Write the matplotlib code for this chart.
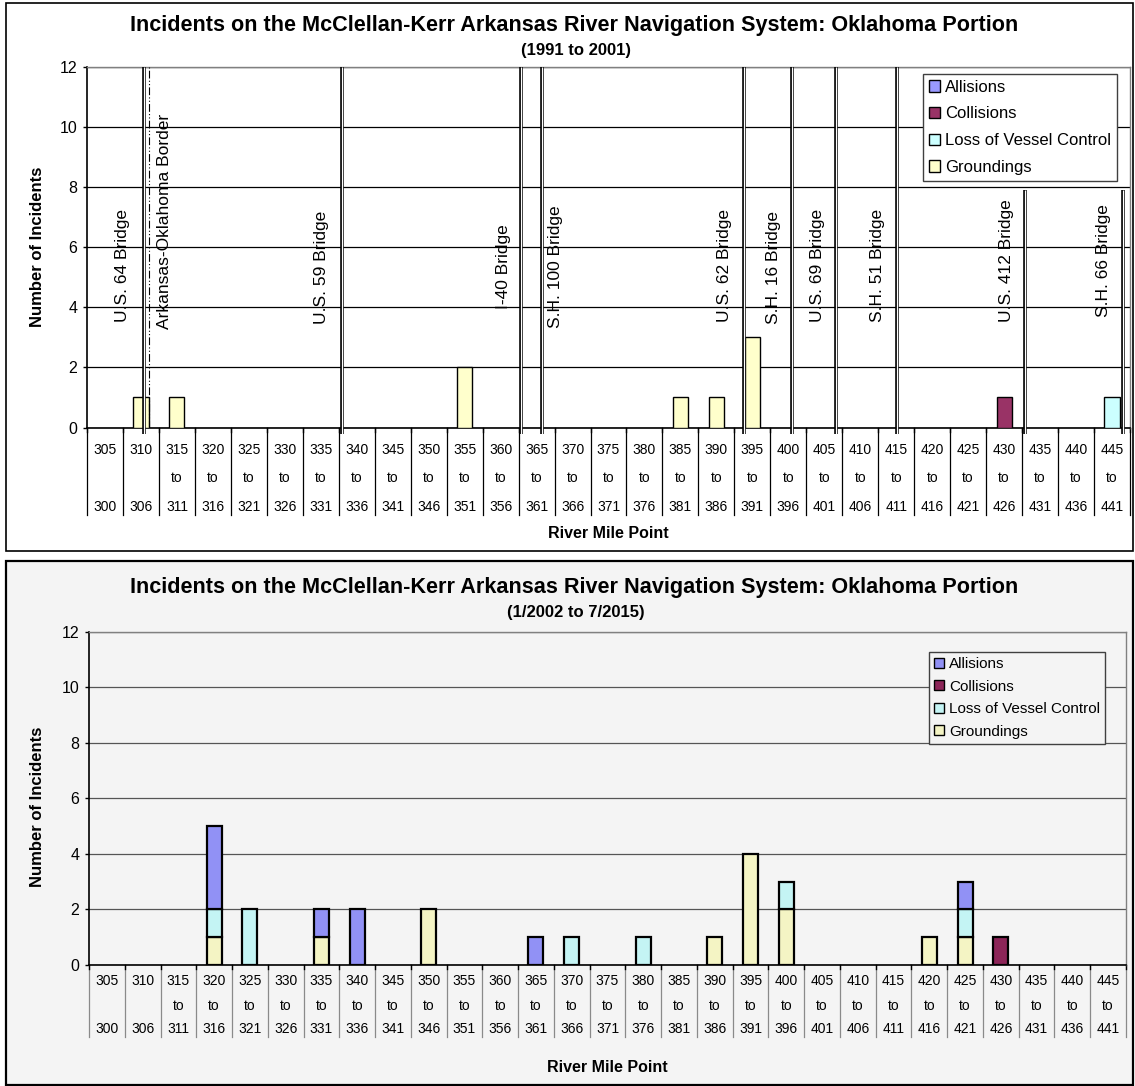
import matplotlib
matplotlib.use("Agg")
import matplotlib.pyplot as plt
import matplotlib.transforms as mtransforms
from matplotlib.patches import Rectangle, Patch
import numpy as np

plt.rcParams['font.family'] = ['Liberation Sans', 'DejaVu Sans']

# category labels (three rows under the axis)
upper_lbl = ['305', '310', '315', '320', '325', '330', '335', '340', '345', '350',
             '355', '360', '365', '370', '375', '380', '385', '390', '395', '400',
             '405', '410', '415', '420', '425', '430', '435', '440', '445']
middle_lbl = ['', '', 'to', 'to', 'to', 'to', 'to', 'to', 'to', 'to',
              'to', 'to', 'to', 'to', 'to', 'to', 'to', 'to', 'to', 'to',
              'to', 'to', 'to', 'to', 'to', 'to', 'to', 'to', 'to']
lower_lbl = ['300', '306', '311', '316', '321', '326', '331', '336', '341', '346',
             '351', '356', '361', '366', '371', '376', '381', '386', '391', '396',
             '401', '406', '411', '416', '421', '426', '431', '436', '441']

series = ['Allisions', 'Collisions', 'Loss of Vessel Control', 'Groundings']

# 1991 to 2001
top_allisions = [0, 0, 0, 0, 0, 0, 0, 0, 0, 0, 0, 0, 0, 0, 0, 0, 0, 0, 0, 0, 0, 0, 0, 0, 0, 0, 0, 0, 0]
top_collisions = [0, 0, 0, 0, 0, 0, 0, 0, 0, 0, 0, 0, 0, 0, 0, 0, 0, 0, 0, 0, 0, 0, 0, 0, 0, 1, 0, 0, 0]
top_lvc = [0, 0, 0, 0, 0, 0, 0, 0, 0, 0, 0, 0, 0, 0, 0, 0, 0, 0, 0, 0, 0, 0, 0, 0, 0, 0, 0, 0, 1]
top_groundings = [0, 1, 1, 0, 0, 0, 0, 0, 0, 0, 2, 0, 0, 0, 0, 0, 1, 1, 3, 0, 0, 0, 0, 0, 0, 0, 0, 0, 0]

# 1/2002 to 7/2015
bot_allisions = [0, 0, 0, 3, 0, 0, 1, 2, 0, 0, 0, 0, 1, 0, 0, 0, 0, 0, 0, 0, 0, 0, 0, 0, 1, 0, 0, 0, 0]
bot_collisions = [0, 0, 0, 0, 0, 0, 0, 0, 0, 0, 0, 0, 0, 0, 0, 0, 0, 0, 0, 0, 0, 0, 0, 0, 0, 1, 0, 0, 0]
bot_lvc = [0, 0, 0, 1, 2, 0, 0, 0, 0, 0, 0, 0, 0, 1, 0, 1, 0, 0, 0, 1, 0, 0, 0, 0, 1, 0, 0, 0, 0]
bot_groundings = [0, 0, 0, 1, 0, 0, 1, 0, 0, 2, 0, 0, 0, 0, 0, 0, 0, 1, 4, 2, 0, 0, 0, 1, 1, 0, 0, 0, 0]

# bridges / border on the top chart, as river miles
bridge_names = ['U.S. 64 Bridge', 'U.S. 59 Bridge', 'I-40 Bridge', 'S.H. 100 Bridge',
                'U.S. 62 Bridge', 'S.H. 16 Bridge', 'U.S. 69 Bridge', 'S.H. 51 Bridge',
                'U.S. 412 Bridge', 'S.H. 66 Bridge']
bridge_miles = [307.9, 335.4, 360.4, 363.2, 391.4, 398.05, 404.15, 412.65, 430.4, 444.0]
border_name = 'Arkansas-Oklahoma Border'
border_mile = 308.6

W, H = 1135, 1086
fig = plt.figure(figsize=(W / 100, H / 100), dpi=100)


def fx(p):
    return p / W


def fy(p):
    return 1 - p / H


def mile_x(m):
    return (m - 302.5) / 5.0


def draw_chart(left, right, top, bottom, rows, sep_end, xlab_y, ylab_y, title_y,
               title, sub, data, colors, bar_lw, grid_c, sep_c, leg_box, leg_fs, leg_sp, bg):
    ax = fig.add_axes([fx(left), fy(bottom), fx(right - left), (bottom - top) / H])
    ax.set_facecolor('none')
    x = np.arange(len(upper_lbl))
    base = np.zeros(len(x))
    # Excel stacks from the last series upward
    for name in ['Groundings', 'Loss of Vessel Control', 'Collisions', 'Allisions']:
        h = np.array(data[name], dtype=float)
        m = h > 0
        ax.bar(x[m], h[m], 0.42, bottom=base[m], color=colors[name],
               edgecolor='black', linewidth=bar_lw, zorder=3)
        base += h
    ax.set_xlim(-0.5, len(x) - 0.5)
    ax.set_ylim(0, 12)
    ax.set_yticks(range(0, 13, 2))
    ax.set_xticks([])
    ax.tick_params(axis='y', direction='out', length=3, width=1, labelsize=11.5, pad=4)
    ax.yaxis.grid(True, color=grid_c, linewidth=0.9, zorder=0)
    ax.set_axisbelow(True)
    for s in ['top', 'right']:
        ax.spines[s].set_color('#808080')
        ax.spines[s].set_linewidth(1.0)
    for s in ['left', 'bottom']:
        ax.spines[s].set_color('black')
        ax.spines[s].set_linewidth(1.2)

    tr = mtransforms.blended_transform_factory(ax.transData, fig.transFigure)
    for i in range(len(x)):
        for lbl, ry in zip([upper_lbl[i], middle_lbl[i], lower_lbl[i]], rows):
            ax.text(i, fy(ry), lbl, transform=tr, ha='center', va='center',
                    fontsize=10, clip_on=False)
    for i in range(len(x) + 1):
        ax.plot([i - 0.5, i - 0.5], [fy(bottom), fy(sep_end)], transform=tr,
                color=sep_c, linewidth=0.9, clip_on=False)
        ax.plot([i - 0.5, i - 0.5], [fy(bottom), fy(bottom + 4)], transform=tr,
                color='black', linewidth=1.0, clip_on=False)

    fig.text(fx(574), fy(title_y), title, ha='center', va='center',
             fontsize=15.6, fontweight='bold')
    fig.text(fx(576), fy(title_y + 25), sub, ha='center', va='center',
             fontsize=12, fontweight='bold')
    fig.text(fx(38), fy(ylab_y), 'Number of Incidents', rotation=90,
             ha='center', va='center', fontsize=12, fontweight='bold')
    fig.text(fx((left + right) / 2), fy(xlab_y), 'River Mile Point',
             ha='center', va='center', fontsize=11.5, fontweight='bold')

    handles = [Patch(facecolor=colors[n], edgecolor='black', linewidth=1.0) for n in series]
    leg = ax.legend(handles, series, loc='upper left',
                    bbox_to_anchor=(fx(leg_box[0]), fy(leg_box[1])),
                    bbox_transform=fig.transFigure, fontsize=leg_fs,
                    handlelength=0.65, handleheight=0.65, handletextpad=0.3,
                    labelspacing=leg_sp, borderpad=0.35, borderaxespad=0,
                    fancybox=False, framealpha=1, facecolor=bg, edgecolor='#404040')
    leg.get_frame().set_linewidth(1.0)
    leg.set_zorder(10)
    return ax


# chart frames
fig.patches.append(Rectangle((fx(6), fy(551)), fx(1127), (551 - 3) / H,
                             transform=fig.transFigure, facecolor='white',
                             edgecolor='black', linewidth=1.2, zorder=-5))
fig.patches.append(Rectangle((fx(6), fy(1085)), fx(1127), (1085 - 561) / H,
                             transform=fig.transFigure, facecolor='#f4f4f4',
                             edgecolor='black', linewidth=1.6, zorder=-5))

top_colors = {'Allisions': '#9999ff', 'Collisions': '#993366',
              'Loss of Vessel Control': '#ccffff', 'Groundings': '#ffffcc'}
bot_colors = {'Allisions': '#9191f5', 'Collisions': '#8c2558',
              'Loss of Vessel Control': '#c4f4f4', 'Groundings': '#f4f4c4'}

ax1 = draw_chart(87, 1130, 66.7, 427.5, [450, 478, 507], 515, 534, 247, 26,
                 'Incidents on the McClellan-Kerr Arkansas River Navigation System: Oklahoma Portion',
                 '(1991 to 2001)',
                 {'Allisions': top_allisions, 'Collisions': top_collisions,
                  'Loss of Vessel Control': top_lvc, 'Groundings': top_groundings},
                 top_colors, 1.0, 'black', 'black', (923, 74), 12, 0.7, 'white')

ax2 = draw_chart(89, 1126, 631.5, 965, [981, 1006, 1029], 1037, 1067, 807, 588,
                 'Incidents on the McClellan-Kerr Arkansas River Navigation System: Oklahoma Portion',
                 '(1/2002 to 7/2015)',
                 {'Allisions': bot_allisions, 'Collisions': bot_collisions,
                  'Loss of Vessel Control': bot_lvc, 'Groundings': bot_groundings},
                 bot_colors, 1.6, '#555555', '#8a8a8a', (929, 652), 11, 0.55, '#f4f4f4')

# bridges on the top chart
label_dx = [-0.58, -0.57, -0.5, 0.4, -0.56, -0.53, -0.53, -0.55, -0.5, -0.53]
label_y = [3.5, 3.45, 3.95, 3.3, 3.5, 3.45, 3.5, 3.5, 3.5, 3.68]
line_top = [12, 12, 12, 12, 12, 12, 12, 12, 7.9, 7.9]
for name, mile, dx, ly, lt in zip(bridge_names, bridge_miles, label_dx, label_y, line_top):
    bx = mile_x(mile)
    ax1.plot([bx, bx], [-0.2, lt], color='black', linewidth=2.6,
             solid_capstyle='butt', zorder=5, clip_on=False)
    ax1.plot([bx, bx], [-0.2, lt], color='white', linewidth=0.9,
             solid_capstyle='butt', zorder=6, clip_on=False)
    ax1.text(bx + dx, ly, name, rotation=90, ha='center', va='bottom',
             fontsize=12.5, zorder=7)

bdx = mile_x(border_mile)
ax1.plot([bdx, bdx], [0, 12], color='black', linewidth=0.8,
         dashes=[7, 2, 1, 2, 1, 2], zorder=5)
ax1.text(bdx + 0.44, 3.28, border_name, rotation=90, ha='center', va='bottom',
         fontsize=12.5, zorder=7)

fig.savefig('out.png', dpi=100)
